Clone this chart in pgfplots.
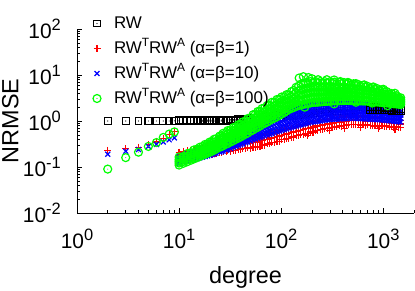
\documentclass[border=0pt]{standalone}
\usepackage{fontspec}
\setmainfont{Liberation Sans}
\usepackage{pgfplots}
\usepackage{pgfplotstable}
\pgfplotsset{compat=1.18}
\definecolor{gred}{RGB}{255,0,0}
\definecolor{gblue}{RGB}{0,0,255}
\definecolor{ggreen}{RGB}{0,255,0}
\newcommand{\tsup}[1]{\raisebox{0.36em}{\fontsize{16.5}{16.5}\selectfont #1}}
\newcommand{\lsup}[1]{\raisebox{0.4em}{\fontsize{12}{12}\selectfont #1}}
\pgfdeclareplotmark{sqd}{%
  \pgfpathrectangle{\pgfqpoint{-\pgfplotmarksize}{-\pgfplotmarksize}}{\pgfqpoint{2\pgfplotmarksize}{2\pgfplotmarksize}}%
  \pgfusepathqstroke
  \pgfpathcircle{\pgfpointorigin}{0.55pt}\pgfusepathqfill}
\pgfdeclareplotmark{ocd}{%
  \pgfpathcircle{\pgfpointorigin}{\pgfplotmarksize}\pgfusepathqstroke
  \pgfpathcircle{\pgfpointorigin}{0.55pt}\pgfusepathqfill}
\pgfplotsset{
  rwst/.style={only marks, mark=sqd, mark size=3.4bp, mark options={draw=black, fill=black, line width=1.1bp}},
  rdst/.style={only marks, mark=+, mark size=3.5bp, mark options={draw=gred, line width=1.2bp}},
  blst/.style={only marks, mark=x, mark size=3.5bp, mark options={draw=gblue, line width=1.2bp}},
  gnst/.style={only marks, mark=ocd, mark size=4bp, mark options={draw=ggreen, fill=ggreen, line width=1.2bp}},
}
% RW: top / bottom of the band (degrees up to 700)
\pgfplotstableread{
d t b
10 1.03 0.99
11 1.03 0.99
12 1.03 0.99
13 1.03 0.99
14 1.035 0.99
15 1.04 0.99
16 1.04 0.99
17 1.04 0.99
18 1.04 0.99
19 1.04 0.99
20 1.04 0.99
21 1.04 0.99
22 1.045 0.99
23 1.05 0.995
25 1.05 1.0
26 1.05 1.0
27 1.055 1.0
29 1.06 1.0
30 1.065 1.0
32 1.07 1.005
34 1.075 1.01
36 1.08 1.015
38 1.085 1.02
40 1.09 1.025
42 1.10 1.03
45 1.11 1.035
47 1.12 1.04
50 1.13 1.05
53 1.145 1.06
56 1.16 1.07
59 1.175 1.08
62 1.19 1.09
65 1.205 1.10
69 1.22 1.115
73 1.24 1.13
77 1.26 1.145
81 1.28 1.16
86 1.30 1.175
91 1.32 1.19
96 1.34 1.205
101 1.35 1.22
107 1.37 1.235
113 1.385 1.25
119 1.40 1.27
126 1.42 1.29
133 1.45 1.31
140 1.47 1.33
148 1.50 1.35
156 1.53 1.37
165 1.56 1.39
174 1.58 1.41
184 1.61 1.43
194 1.64 1.45
205 1.66 1.47
216 1.69 1.49
228 1.71 1.51
241 1.74 1.53
254 1.76 1.545
268 1.79 1.56
283 1.82 1.575
298 1.84 1.59
315 1.86 1.605
333 1.88 1.62
351 1.90 1.63
371 1.92 1.64
391 1.94 1.65
412 1.955 1.66
435 1.97 1.67
459 1.985 1.68
484 2.0 1.69
511 2.0 1.69
539 2.01 1.70
569 2.01 1.70
600 2.02 1.70
633 2.02 1.70
668 2.02 1.70
705 2.02 1.70
}\rwdata
% RW: highest degrees
\pgfplotstableread{
d t b
744 2.02 1.72
785 2.01 1.72
828 2.0 1.72
874 1.99 1.72
922 1.98 1.72
973 1.965 1.72
1027 1.95 1.71
1084 1.935 1.70
1143 1.92 1.69
1207 1.90 1.68
1273 1.88 1.67
1345 1.85 1.66
1420 1.82 1.65
1480 1.80 1.64
}\rwhigh
% alpha=beta=1: top / middle / bottom
\pgfplotstableread{
d t m b
10 .21 .178 .15
11 .218 .184 .152
12 .226 .193 .162
13 .234 .196 .16
14 .241 .201 .17
15 .248 .207 .168
16 .255 .212 .178
17 .261 .217 .176
18 .268 .222 .186
19 .274 .227 .183
20 .28 .231 .192
21 .286 .235 .19
22 .292 .24 .2
23 .297 .244 .196
25 .307 .251 .208
26 .312 .255 .205
27 .317 .259 .215
29 .326 .266 .213
30 .33 .269 .223
32 .341 .277 .22
34 .35 .284 .233
36 .36 .29 .229
38 .37 .297 .242
40 .379 .303 .238
42 .388 .31 .25
45 .401 .318 .248
47 .41 .325 .26
50 .422 .333 .257
53 .434 .341 .271
56 .445 .349 .268
59 .457 .357 .282
62 .469 .366 .279
65 .487 .38 .30
69 .50 .39 .298
73 .516 .403 .318
77 .532 .415 .317
81 .55 .429 .34
86 .568 .444 .34
91 .587 .459 .364
96 .605 .474 .363
101 .624 .49 .39
107 .641 .504 .389
113 .66 .521 .418
119 .678 .538 .418
126 .70 .556 .448
133 .724 .574 .447
140 .747 .593 .477
148 .771 .611 .475
156 .796 .631 .508
165 .822 .652 .508
174 .85 .674 .543
184 .877 .696 .541
194 .905 .718 .578
205 .931 .739 .575
216 .953 .759 .614
228 .975 .779 .61
241 1.0 .80 .65
254 1.02 .82 .646
268 1.045 .842 .688
283 1.07 .864 .684
298 1.095 .885 .725
315 1.12 .905 .716
333 1.14 .921 .755
351 1.16 .937 .742
371 1.18 .953 .78
391 1.20 .97 .768
412 1.22 .986 .808
435 1.24 1.0 .795
459 1.265 1.02 .837
484 1.29 1.03 .823
511 1.285 1.04 .852
539 1.28 1.035 .823
569 1.27 1.03 .846
600 1.26 1.02 .811
633 1.25 1.01 .834
668 1.24 1.005 .80
705 1.225 .997 .824
744 1.21 .99 .79
785 1.20 .98 .812
828 1.19 .972 .78
874 1.18 .965 .80
922 1.17 .958 .77
973 1.16 .951 .79
1027 1.14 .94 .758
1084 1.125 .928 .776
1143 1.11 .917 .742
1207 1.095 .905 .76
1273 1.08 .894 .725
1345 1.065 .883 .742
1420 1.05 .872 .708
1480 1.04 .862 .725
}\reddata
% alpha=beta=10: five rows across the band
\pgfplotstableread{
d t u m l b
10 0.17 0.157 0.145 0.132 0.12
11 0.181 0.167 0.152 0.139 0.127
12 0.192 0.175 0.16 0.146 0.133
13 0.202 0.185 0.168 0.153 0.14
14 0.212 0.193 0.176 0.16 0.146
15 0.223 0.203 0.184 0.167 0.152
16 0.232 0.211 0.192 0.174 0.158
17 0.242 0.22 0.199 0.181 0.164
18 0.252 0.228 0.207 0.187 0.170
19 0.261 0.236 0.214 0.193 0.175
20 0.27 0.244 0.22 0.199 0.18
21 0.281 0.253 0.229 0.206 0.186
22 0.292 0.263 0.237 0.214 0.193
23 0.303 0.272 0.245 0.221 0.199
25 0.325 0.291 0.262 0.235 0.211
26 0.337 0.302 0.27 0.242 0.217
27 0.348 0.311 0.278 0.249 0.222
29 0.369 0.33 0.294 0.263 0.234
30 0.38 0.339 0.302 0.269 0.24
32 0.408 0.362 0.321 0.285 0.253
34 0.437 0.387 0.342 0.302 0.267
36 0.466 0.411 0.361 0.318 0.28
38 0.495 0.435 0.381 0.334 0.293
40 0.524 0.459 0.4 0.35 0.306
42 0.553 0.482 0.419 0.365 0.318
45 0.596 0.517 0.448 0.389 0.337
47 0.625 0.541 0.468 0.405 0.35
50 0.67 0.578 0.497 0.429 0.369
53 0.715 0.615 0.527 0.452 0.388
56 0.76 0.651 0.556 0.475 0.406
59 0.805 0.687 0.585 0.498 0.425
62 0.851 0.722 0.612 0.519 0.44
65 0.90 0.76 0.643 0.544 0.46
69 0.959 0.805 0.675 0.566 0.475
73 1.02 0.85 0.711 0.592 0.495
77 1.08 0.897 0.744 0.618 0.513
81 1.15 0.95 0.784 0.647 0.535
86 1.22 1.0 0.824 0.677 0.556
91 1.30 1.06 0.868 0.708 0.58
96 1.38 1.12 0.911 0.74 0.601
101 1.47 1.19 0.958 0.772 0.625
107 1.58 1.26 1.01 0.809 0.648
113 1.7 1.35 1.07 0.848 0.67
119 1.83 1.44 1.13 0.887 0.697
126 1.9 1.49 1.17 0.918 0.72
133 1.97 1.54 1.21 0.95 0.745
140 2.03 1.59 1.25 0.98 0.77
148 2.09 1.64 1.29 1.01 0.794
156 2.16 1.69 1.33 1.04 0.82
165 2.23 1.75 1.38 1.08 0.848
174 2.31 1.81 1.42 1.11 0.875
184 2.38 1.87 1.47 1.15 0.906
194 2.45 1.92 1.51 1.19 0.935
205 2.51 1.97 1.55 1.22 0.957
216 2.55 2.0 1.57 1.24 0.97
228 2.58 2.03 1.60 1.26 0.989
241 2.61 2.05 1.62 1.27 1.0
254 2.64 2.08 1.64 1.29 1.02
268 2.68 2.11 1.67 1.32 1.04
283 2.71 2.14 1.69 1.34 1.06
298 2.73 2.16 1.71 1.35 1.07
315 2.75 2.18 1.73 1.37 1.09
333 2.76 2.19 1.73 1.38 1.09
351 2.77 2.2 1.75 1.39 1.10
371 2.77 2.2 1.75 1.39 1.11
391 2.75 2.2 1.76 1.40 1.12
412 2.72 2.19 1.76 1.41 1.12
435 2.68 2.18 1.76 1.42 1.13
459 2.64 2.16 1.76 1.42 1.14
484 2.60 2.14 1.76 1.43 1.15
511 2.55 2.11 1.75 1.43 1.15
539 2.50 2.08 1.74 1.42 1.14
569 2.45 2.05 1.72 1.40 1.13
600 2.40 2.01 1.70 1.39 1.12
633 2.34 1.98 1.68 1.39 1.12
668 2.28 1.94 1.66 1.38 1.11
705 2.22 1.90 1.63 1.37 1.10
744 2.16 1.86 1.61 1.35 1.09
785 2.10 1.83 1.59 1.34 1.08
828 2.05 1.80 1.57 1.33 1.08
874 2.0 1.77 1.55 1.32 1.07
922 1.96 1.74 1.53 1.30 1.06
973 1.92 1.71 1.51 1.29 1.05
1027 1.88 1.68 1.49 1.28 1.04
1084 1.84 1.65 1.47 1.26 1.03
1143 1.80 1.62 1.45 1.23 1.01
1207 1.76 1.59 1.43 1.21 1.0
1273 1.72 1.56 1.40 1.19 0.98
1345 1.68 1.53 1.38 1.17 0.97
1420 1.65 1.50 1.36 1.16 0.96
1480 1.62 1.48 1.34 1.14 0.95
}\bluedata
% alpha=beta=100: five rows across the band
\pgfplotstableread{
d t u m l b
10 .165 0.145 0.133 0.122 0.11
11 .17 0.158 0.146 0.132 0.12
12 .195 0.172 0.158 0.143 0.13
13 .205 0.19 0.172 0.155 0.14
14 .235 0.205 0.185 0.165 0.15
15 .245 0.22 0.198 0.178 0.16
16 .27 0.238 0.213 0.19 0.17
17 .28 0.253 0.226 0.2 0.18
18 .31 0.27 0.24 0.213 0.19
19 .315 0.285 0.253 0.225 0.20
20 .35 0.30 0.267 0.237 0.21
21 .355 0.32 0.283 0.25 0.22
22 .40 0.343 0.30 0.262 0.233
23 .41 0.36 0.318 0.28 0.245
25 .47 0.40 0.353 0.307 0.268
26 .48 0.425 0.37 0.322 0.28
27 .54 0.45 0.388 0.335 0.29
29 .56 0.49 0.425 0.365 0.315
30 .62 0.515 0.443 0.38 0.326
32 .64 0.56 0.48 0.41 0.35
34 .72 0.60 0.512 0.44 0.375
36 .74 0.64 0.545 0.465 0.40
38 .83 0.685 0.585 0.495 0.425
40 .84 0.725 0.62 0.525 0.45
42 .95 0.78 0.665 0.56 0.48
45 1.0 0.86 0.73 0.615 0.52
47 1.13 0.92 0.775 0.65 0.55
50 1.17 1.0 0.845 0.71 0.60
53 1.37 1.10 0.92 0.77 0.64
56 1.42 1.20 1.0 0.83 0.69
59 1.61 1.29 1.07 0.88 0.73
62 1.64 1.38 1.14 0.94 0.78
65 1.87 1.49 1.23 1.01 0.84
69 1.92 1.61 1.32 1.08 0.89
73 2.18 1.73 1.42 1.16 0.95
77 2.22 1.86 1.52 1.25 1.02
81 2.55 2.0 1.63 1.33 1.09
86 2.58 2.14 1.75 1.42 1.16
91 2.94 2.30 1.88 1.53 1.24
96 2.98 2.47 2.01 1.63 1.33
101 3.33 2.62 2.14 1.75 1.43
107 3.35 2.79 2.28 1.87 1.53
113 3.74 2.95 2.44 2.0 1.66
119 3.7 3.13 2.59 2.15 1.78
126 4.37 3.45 2.81 2.3 1.88
133 4.6 3.78 3.04 2.45 1.97
140 5.4 4.15 3.28 2.6 2.07
148 5.7 4.55 3.56 2.78 2.17
156 6.35 4.75 3.69 2.87 2.23
165 6.2 4.9 3.8 2.95 2.29
174 6.75 5.05 3.91 3.03 2.35
184 6.55 5.19 4.02 3.11 2.41
194 7.2 5.32 4.13 3.2 2.47
205 6.85 5.43 4.21 3.26 2.53
216 7.25 5.43 4.22 3.28 2.55
228 6.8 5.43 4.22 3.29 2.56
241 7.2 5.43 4.24 3.31 2.59
254 6.75 5.43 4.26 3.34 2.62
268 7.15 5.41 4.27 3.36 2.65
283 6.7 5.40 4.27 3.38 2.67
298 7.1 5.40 4.28 3.40 2.69
315 6.65 5.40 4.29 3.41 2.71
333 7.0 5.38 4.28 3.42 2.72
351 6.55 5.36 4.29 3.43 2.74
371 6.95 5.35 4.29 3.44 2.75
391 6.5 5.34 4.29 3.45 2.77
412 6.85 5.31 4.28 3.45 2.78
435 6.4 5.28 4.27 3.45 2.79
459 6.7 5.22 4.24 3.44 2.79
484 6.2 5.15 4.19 3.41 2.78
511 6.45 5.07 4.14 3.39 2.77
539 5.95 4.98 4.09 3.36 2.76
569 6.2 4.9 4.05 3.34 2.75
600 5.7 4.83 4.0 3.31 2.74
633 5.95 4.75 3.94 3.28 2.72
668 5.5 4.67 3.9 3.25 2.71
705 5.65 4.57 3.83 3.21 2.69
744 5.2 4.47 3.76 3.16 2.66
785 5.35 4.36 3.68 3.11 2.63
828 4.9 4.25 3.61 3.06 2.60
874 5.05 4.15 3.54 3.02 2.58
922 4.6 4.04 3.47 2.97 2.55
973 4.75 3.93 3.39 2.92 2.52
1027 4.3 3.81 3.30 2.86 2.48
1084 4.35 3.67 3.21 2.81 2.46
1143 3.9 3.52 3.11 2.75 2.43
1207 3.95 3.38 3.02 2.69 2.40
1273 3.5 3.24 2.92 2.63 2.37
1345 3.55 3.11 2.83 2.57 2.34
1420 3.2 2.99 2.74 2.52 2.31
1480 3.2 2.88 2.66 2.47 2.28
}\greendata
\begin{document}
\begin{tikzpicture}
\path[use as bounding box] (0,0) rectangle (415bp,291bp);
\begin{axis}[
  at={(77bp,78bp)}, anchor=south west,
  scale only axis, width=337bp, height=184bp,
  xmode=log, ymode=log,
  xmin=1, xmax=2000, ymin=0.01, ymax=100,
  axis x line*=bottom, axis y line*=left,
  axis line style={-, line width=0.9bp},
  tick align=inside,
  major tick length=5bp, minor tick length=3bp,
  every tick/.style={black, line width=0.6bp},
  xtick={1,10,100,1000},
  xticklabels={10\tsup{0},10\tsup{1},10\tsup{2},10\tsup{3}},
  minor xtick={2,3,4,5,6,7,8,9,20,30,40,50,60,70,80,90,200,300,400,500,600,700,800,900,2000},
  ytick={0.01,0.1,1,10,100},
  yticklabels={10\tsup{-2},10\tsup{-1},10\tsup{0},10\tsup{1},10\tsup{2}},
  minor ytick={0.02,0.03,0.04,0.05,0.06,0.07,0.08,0.09,0.2,0.3,0.4,0.5,0.6,0.7,0.8,0.9,2,3,4,5,6,7,8,9,20,30,40,50,60,70,80,90},
  xticklabel style={font=\fontsize{21}{21}\selectfont, anchor=base, yshift=-35bp, inner sep=0pt},
  yticklabel style={font=\fontsize{21}{21}\selectfont, anchor=east, xshift=-16bp, inner sep=0pt},
  xlabel={degree}, ylabel={NRMSE},
  every axis x label/.style={at={(axis description cs:0.5,0)}, anchor=base, yshift=-70bp, font=\fontsize{23.5}{23.5}\selectfont, inner sep=0pt},
  every axis y label/.style={at={(axis description cs:-0.198,0.5)}, rotate=90, anchor=center, font=\fontsize{23.5}{23.5}\selectfont, inner sep=0pt},
  legend image code/.code={\draw[#1, only marks] plot coordinates {(0bp,0bp)};},
  legend style={at={(axis description cs:0.0475,1.076)}, anchor=north west, draw=none, fill=none,
     inner sep=0pt, outer sep=0pt, font=\fontsize{17}{17}\selectfont,
     nodes={inner sep=0pt, text height=13bp, text depth=4bp},
     row sep=8bp, column sep=13bp},
  legend cell align=left,
  clip=false,
]
% RW
\addplot[rwst] coordinates {(2,1.0)(3,1.0)(4,1.0)(5,1.0)(6,1.0)(7,1.0)(8,1.0)(9,1.01)};
\addlegendentry{RW}
\addplot[rwst, forget plot] table[x=d, y=t]{\rwdata};
\addplot[rwst, forget plot] table[x=d, y=b]{\rwdata};
% alpha=beta=1
\addplot[rdst] coordinates {(2,0.23)(3,0.25)(4,0.27)(5,0.31)(6,0.35)(7,0.42)(8,0.5)(9,0.58)
  (180,0.48)(300,0.62)(420,0.70)(600,0.72)(900,0.70)(1300,0.66)};
\addlegendentry{RW\lsup{T}RW\lsup{A} (α=β=1)}
\addplot[rdst, forget plot] table[x=d, y=t]{\reddata};
\addplot[rdst, forget plot] table[x=d, y=m]{\reddata};
\addplot[rdst, forget plot] table[x=d, y=b]{\reddata};
% alpha=beta=10
\addplot[blst] coordinates {(2,0.19)(3,0.22)(4,0.24)(5,0.28)(6,0.31)(7,0.35)(8,0.39)(9,0.43)};
\addlegendentry{RW\lsup{T}RW\lsup{A} (α=β=10)}
\addplot[blst, forget plot] table[x=d, y=t]{\bluedata};
\addplot[blst, forget plot] table[x=d, y=u]{\bluedata};
\addplot[blst, forget plot] table[x=d, y=m]{\bluedata};
\addplot[blst, forget plot] table[x=d, y=l]{\bluedata};
\addplot[blst, forget plot] table[x=d, y=b]{\bluedata};
% RW at the highest degrees, where it shows above the blue band
\addplot[rwst, forget plot] table[x=d, y=t]{\rwhigh};
\addplot[rwst, forget plot] table[x=d, y=b]{\rwhigh};
% alpha=beta=100
\addplot[gnst] coordinates {(2,0.09)(3,0.16)(4,0.21)(5,0.28)(6,0.34)(7,0.44)(8,0.52)(9,0.58)
  (150,8.6)(165,9.2)(185,8.8)(200,8.3)(230,7.9)(280,7.9)(330,7.8)(380,7.2)(450,6.9)(540,6.5)(650,6.1)(800,5.5)(1000,4.9)(1300,4.0)
  (170,2.0)(330,2.35)(540,2.55)(780,2.45)(1100,2.15)};
\addlegendentry{RW\lsup{T}RW\lsup{A} (α=β=100)}
\addplot[gnst, forget plot] table[x=d, y=t]{\greendata};
\addplot[gnst, forget plot] table[x=d, y=u]{\greendata};
\addplot[gnst, forget plot] table[x=d, y=m]{\greendata};
\addplot[gnst, forget plot] table[x=d, y=l]{\greendata};
\addplot[gnst, forget plot] table[x=d, y=b]{\greendata};
\end{axis}
\end{tikzpicture}
\end{document}
